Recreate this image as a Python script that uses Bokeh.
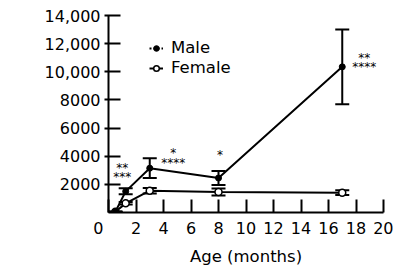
from math import pi
from bokeh.plotting import figure
from bokeh.models import (ColumnDataSource, Whisker, TeeHead, Legend, LegendItem,
                          FixedTicker, Label)
from bokeh.embed import file_html
from bokeh.resources import INLINE
from bokeh.core.properties import value

# ---- data ----
male_age = [0.5, 1.25, 3, 8, 17]
male_iga = [50, 1500, 3150, 2450, 10350]
male_lo = [50, 1300, 2450, 1950, 7700]
male_hi = [50, 1720, 3850, 2950, 13000]

female_age = [0.5, 1.25, 3, 8, 17]
female_iga = [50, 650, 1550, 1450, 1400]
female_lo = [50, 560, 1350, 1200, 1250]
female_hi = [50, 740, 1750, 1700, 1580]

star_x = [1.0, 1.0, 4.7, 4.7, 8.1, 18.6, 18.6]
star_y = [3150, 2500, 4200, 3550, 4100, 10950, 10350]
star_txt = ["**", "***", "*", "****", "*", "**", "****"]

x_ticks = [0, 2, 4, 6, 8, 10, 12, 14, 16, 18, 20]
y_ticks = [2000, 4000, 6000, 8000, 10000, 12000, 14000]
y_tick_labels = ["2000", "4000", "6000", "8000", "10,000", "12,000", "14,000"]

FONT = "DejaVu Sans"

p = figure(frame_width=275, frame_height=197, x_range=(0, 20), y_range=(0, 14000),
           output_backend="svg", toolbar_location=None,
           min_border_left=108, min_border_right=10, min_border_top=15,
           min_border_bottom=46)
p.outline_line_color = None
p.xgrid.visible = False
p.ygrid.visible = False
p.background_fill_color = "white"

# axes
p.xaxis.ticker = FixedTicker(ticks=x_ticks)
p.xaxis.major_label_overrides = {0: "0    "}
p.yaxis.ticker = FixedTicker(ticks=y_ticks)
p.yaxis.major_label_overrides = {t: l for t, l in zip(y_ticks, y_tick_labels)}
for ax in (p.xaxis, p.yaxis):
    ax.axis_line_width = 2
    ax.axis_line_color = "black"
    ax.major_tick_line_width = 2
    ax.major_tick_line_color = "black"
    ax.minor_tick_line_color = None
    ax.major_label_text_font = FONT
    ax.major_label_text_font_size = "16px"
    ax.major_label_text_color = "black"
    ax.axis_label_text_font = FONT
    ax.axis_label_text_font_size = "16.5px"
    ax.axis_label_text_font_style = "normal"
    ax.axis_label_text_color = "black"
p.xaxis.major_tick_in = 13
p.xaxis.major_tick_out = 0
p.yaxis.major_tick_in = 12
p.yaxis.major_tick_out = 4
p.xaxis.major_label_standoff = 6
p.yaxis.major_label_standoff = 4
p.xaxis.axis_label = "Age (months)"
p.xaxis.axis_label_standoff = 6

# y-axis title (placed as a label so it can sit a little above centre, as in the original)
p.add_layout(Label(x=-6.4, y=7900, text="Total tear IgA (ng)", angle=pi / 2,
                   text_align="center", text_baseline="middle",
                   text_font=FONT, text_font_size="16.5px",
                   text_color="black"))

msrc = ColumnDataSource(dict(x=male_age, y=male_iga, lo=male_lo, hi=male_hi))
fsrc = ColumnDataSource(dict(x=female_age, y=female_iga, lo=female_lo, hi=female_hi))

# lines
p.line("x", "y", source=fsrc, line_width=2, color="black")
p.line("x", "y", source=msrc, line_width=2, color="black")

# error bars
for src in (msrc, fsrc):
    w = Whisker(source=src, base="x", lower="lo", upper="hi", dimension="height",
                line_width=2, line_color="black",
                upper_head=TeeHead(size=14, line_width=2, line_color="black"),
                lower_head=TeeHead(size=14, line_width=2, line_color="black"))
    p.add_layout(w)

# markers
p.scatter("x", "y", source=fsrc, marker="circle", size=7, fill_color="white",
          line_color="black", line_width=1.5)
p.scatter("x", "y", source=msrc, marker="circle", size=6, fill_color="black",
          line_color="black")

# significance stars
ssrc = ColumnDataSource(dict(x=star_x, y=star_y, t=star_txt))
p.text("x", "y", text="t", source=ssrc, text_font=value(FONT),
       text_font_size="12px", text_align="center", text_baseline="middle",
       text_color="black")

# legend (key glyphs only; NaN data so nothing is drawn in the plot area)
nan = float("nan")
lm = p.line([nan, nan], [nan, nan], line_width=2, line_dash="2 2", color="black")
sm = p.scatter([nan], [nan], marker="circle", size=6, fill_color="black",
               line_color="black")
lf = p.line([nan, nan], [nan, nan], line_width=2, color="black")
sf = p.scatter([nan], [nan], marker="circle", size=7, fill_color="white",
               line_color="black", line_width=1.5)
legend = Legend(items=[LegendItem(label="Male", renderers=[lm, sm]),
                       LegendItem(label="Female", renderers=[lf, sf])],
                location=(41, 135), border_line_color=None,
                background_fill_alpha=0, label_text_font=FONT,
                label_text_color="black",
                label_text_font_size="16.5px", glyph_width=14, glyph_height=16,
                label_standoff=8, spacing=1, padding=2, label_height=16)
p.add_layout(legend, "center")

open("out.html", "w").write(file_html(p, INLINE))
